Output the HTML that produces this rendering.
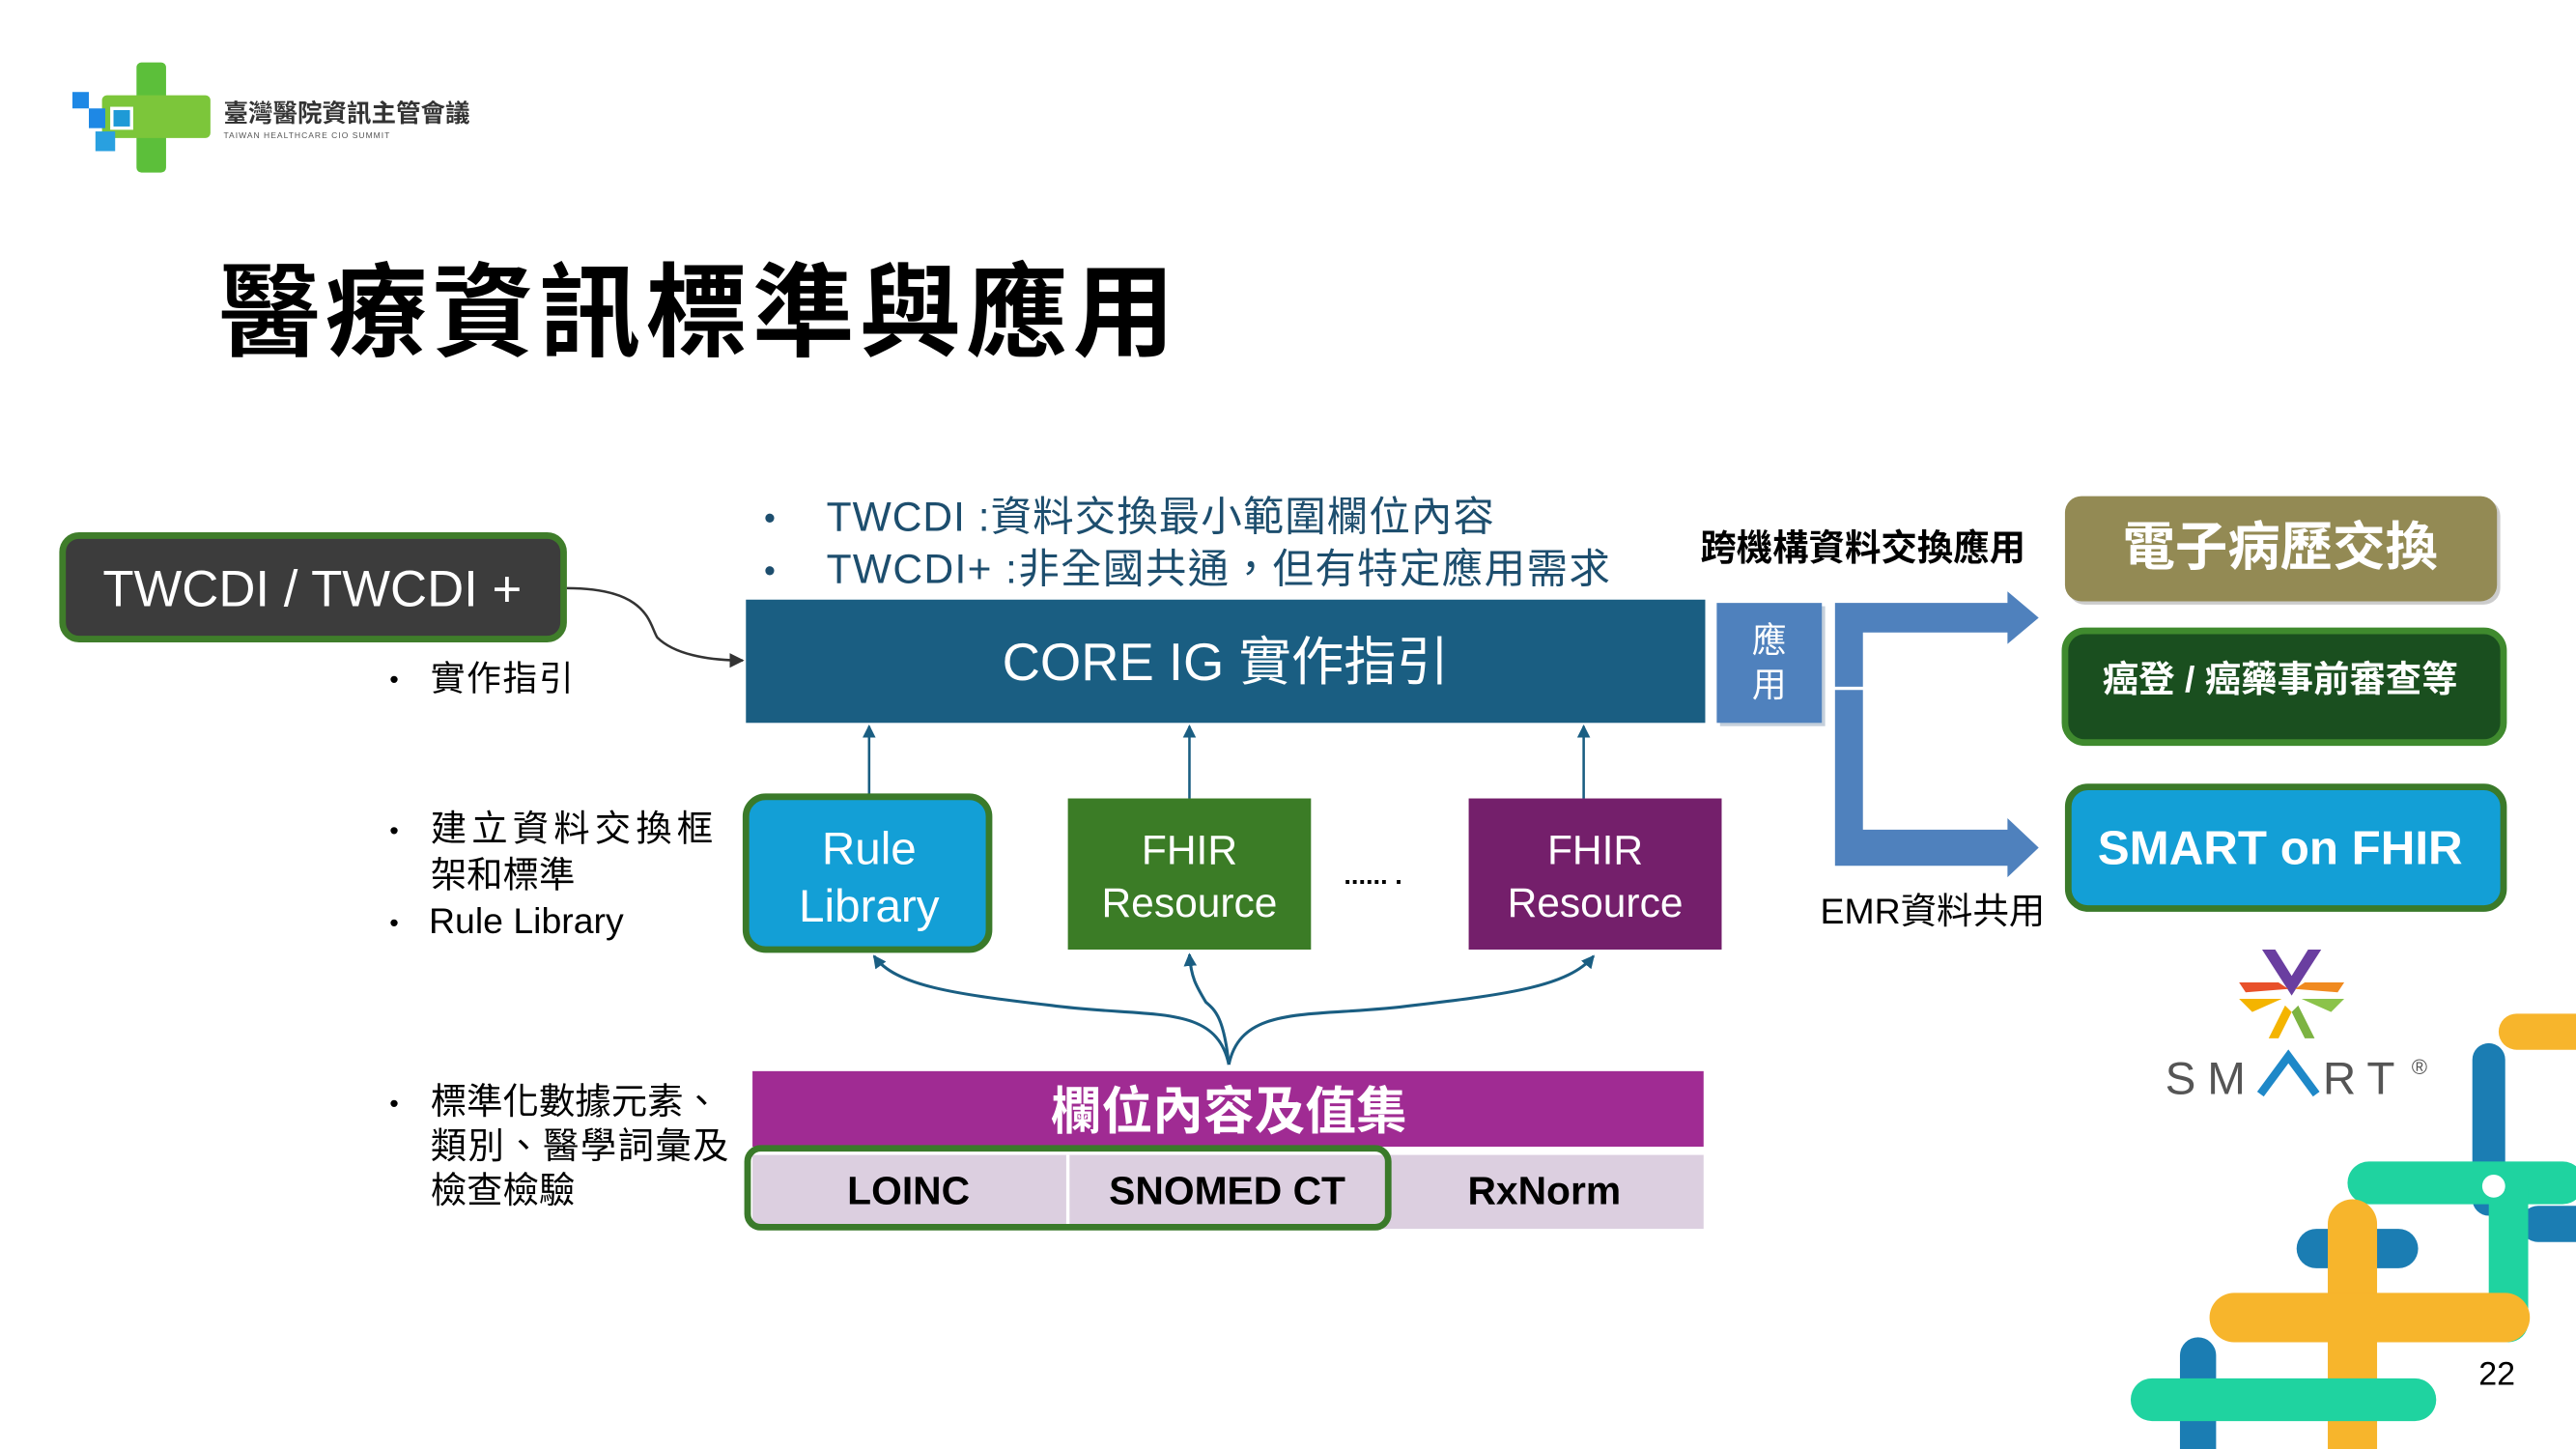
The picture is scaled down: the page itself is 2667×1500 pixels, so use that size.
<!DOCTYPE html>
<html><head><meta charset="utf-8"><style>
html,body{margin:0;padding:0;background:#fff;overflow:hidden}
svg{display:block}
text{font-family:"Liberation Sans","Noto Sans CJK TC",sans-serif}
</style></head><body>
<svg width="2667" height="1500" viewBox="0 0 1568 882" xmlns="http://www.w3.org/2000/svg">
<defs>
<marker id="ah" markerWidth="8" markerHeight="8" refX="7" refY="4" orient="auto" markerUnits="userSpaceOnUse"><path d="M0,0 L8,4 L0,8 Z" fill="#1a5e82"/></marker>
<marker id="ah2" markerWidth="9" markerHeight="9" refX="8" refY="4.5" orient="auto" markerUnits="userSpaceOnUse"><path d="M0,0 L9,4.5 L0,9 Z" fill="#333"/></marker>
</defs>
<rect width="1568" height="882" fill="#fff"/>
<!-- logo -->
<rect x="83" y="38" width="18" height="67" rx="3" fill="#5cbf3a"/>
<rect x="62" y="58" width="66" height="26" rx="3" fill="#7cc63a"/>
<rect x="44" y="56" width="10" height="10" fill="#1e88e5"/>
<rect x="54" y="66" width="10" height="12" fill="#1e88e5"/>
<rect x="58" y="80" width="12" height="12" fill="#29a0e0"/>
<rect x="68" y="66" width="12" height="12" fill="#1e9ad6" stroke="#fff" stroke-width="2"/>
<text x="136" y="74" font-size="15" font-weight="bold" fill="#333">臺灣醫院資訊主管會議</text>
<text x="136" y="84" font-size="5" fill="#555" letter-spacing="0.6">TAIWAN HEALTHCARE CIO SUMMIT</text>
<!-- title -->
<text x="133" y="212" font-size="62" font-weight="bold" fill="#000" letter-spacing="3">醫療資訊標準與應用</text>
<!-- TWCDI box -->
<rect x="38" y="326" width="305" height="63" rx="10" fill="#3c3c3c" stroke="#3f7d2a" stroke-width="4"/>
<text x="190" y="369" font-size="31" fill="#fff" text-anchor="middle">TWCDI / TWCDI +</text>
<text x="237" y="419" font-size="16" fill="#000">•</text>
<text x="262" y="420" font-size="21" fill="#000" letter-spacing="1">實作指引</text>
<path d="M345,358 C395,358 395,380 400,388 C410,398 430,402 452,402" fill="none" stroke="#333" stroke-width="1.5" marker-end="url(#ah2)"/>
<!-- top bullets -->
<text x="465" y="322" font-size="20" fill="#1d4e6e">•</text>
<text x="503" y="323" font-size="25" fill="#1d4e6e" letter-spacing="0.6">TWCDI :資料交換最小範圍欄位內容</text>
<text x="465" y="354" font-size="20" fill="#1d4e6e">•</text>
<text x="503" y="355" font-size="25" fill="#1d4e6e" letter-spacing="0.8">TWCDI+ :非全國共通，但有特定應用需求</text>
<!-- core IG -->
<rect x="454" y="365" width="584" height="75" fill="#1a5e82"/>
<text x="746" y="414" font-size="32" fill="#fff" text-anchor="middle">CORE IG 實作指引</text>
<!-- 應用 -->
<rect x="1047" y="369" width="64" height="73" fill="#8aa0b8" opacity="0.5"/>
<rect x="1045" y="367" width="64" height="73" fill="#4f81bd"/>
<text x="1077" y="397" font-size="21" fill="#fff" text-anchor="middle">應</text>
<text x="1077" y="424" font-size="21" fill="#fff" text-anchor="middle">用</text>
<!-- bracket arrows -->
<path d="M1117,367 H1222 V360 L1241,376 L1222,392 V385 H1134 V418 H1117 Z" fill="#4f81bd"/>
<path d="M1117,420 H1134 V505 H1222 V498 L1241,516 L1222,534 V527 H1117 Z" fill="#4f81bd"/>
<text x="1035" y="341" font-size="22" font-weight="bold" fill="#000">跨機構資料交換應用</text>
<text x="1108" y="562" font-size="22" fill="#000">EMR資料共用</text>
<!-- right boxes -->
<rect x="1259" y="304" width="263" height="64" rx="10" fill="#ccc"/>
<rect x="1257" y="302" width="263" height="64" rx="10" fill="#938a54"/>
<text x="1388" y="344" font-size="32" font-weight="bold" fill="#fff" text-anchor="middle">電子病歷交換</text>
<rect x="1257" y="384" width="267" height="68" rx="12" fill="#1a4f1f" stroke="#3f8a2e" stroke-width="4"/>
<text x="1388" y="421" font-size="22" font-weight="bold" fill="#fff" text-anchor="middle">癌登 / 癌藥事前審查等</text>
<rect x="1259" y="479" width="265" height="74" rx="12" fill="#139fd6" stroke="#3a7a2a" stroke-width="4"/>
<text x="1388" y="526" font-size="29" font-weight="bold" fill="#fff" text-anchor="middle">SMART on FHIR</text>
<!-- SMART logo -->
<g transform="translate(1395,604)">
<path d="M-18,-26 L-10,-26 L0,-10 L10,-26 L18,-26 L0,2 Z" fill="#6a3ea0"/>
<path d="M-32,-6 L-8,-6 L-2,-2 L-28,0 Z" fill="#e8502a"/>
<path d="M32,-6 L8,-6 L2,-2 L28,0 Z" fill="#f08a20"/>
<path d="M-32,4 L-6,4 L-24,12 Z" fill="#f4b400"/>
<path d="M32,4 L6,4 L24,12 Z" fill="#8bc34a"/>
<path d="M-4,8 L-14,28 L-8,28 L0,12 Z" fill="#f4b400"/>
<path d="M4,8 L14,28 L8,28 L0,12 Z" fill="#7cb342"/>
</g>
<text x="1318" y="666" font-size="28" fill="#555" letter-spacing="7">SM</text>
<path d="M1376,666 L1393,643 L1410,666" fill="none" stroke="#1e88c8" stroke-width="5"/>
<text x="1414" y="666" font-size="28" fill="#555" letter-spacing="7">RT</text>
<text x="1468" y="654" font-size="13" fill="#555">®</text>
<!-- mid-left bullets -->
<text x="237" y="511" font-size="16" fill="#000">•</text>
<text x="262" y="512" font-size="22" fill="#000" letter-spacing="3">建立資料交換框</text>
<text x="262" y="540" font-size="22" fill="#000">架和標準</text>
<text x="237" y="567" font-size="16" fill="#000">•</text>
<text x="261" y="568" font-size="22" fill="#000">Rule Library</text>
<!-- upward arrows -->
<line x1="529" y1="486" x2="529" y2="442" stroke="#1a5e82" stroke-width="1.5" marker-end="url(#ah)"/>
<line x1="724" y1="486" x2="724" y2="442" stroke="#1a5e82" stroke-width="1.5" marker-end="url(#ah)"/>
<line x1="964" y1="486" x2="964" y2="442" stroke="#1a5e82" stroke-width="1.5" marker-end="url(#ah)"/>
<!-- mid boxes -->
<rect x="454" y="485" width="148" height="93" rx="12" fill="#139fd6" stroke="#3a7a2a" stroke-width="4"/>
<text x="529" y="526" font-size="28" fill="#fff" text-anchor="middle">Rule</text>
<text x="529" y="561" font-size="28" fill="#fff" text-anchor="middle">Library</text>
<rect x="650" y="486" width="148" height="92" fill="#3b7c26"/>
<text x="724" y="526" font-size="25" fill="#fff" text-anchor="middle">FHIR</text>
<text x="724" y="558" font-size="25" fill="#fff" text-anchor="middle">Resource</text>
<text x="818" y="538" font-size="16" font-weight="bold" fill="#000">...... .</text>
<rect x="894" y="486" width="154" height="92" fill="#741f6b"/>
<text x="971" y="526" font-size="25" fill="#fff" text-anchor="middle">FHIR</text>
<text x="971" y="558" font-size="25" fill="#fff" text-anchor="middle">Resource</text>
<!-- curves -->
<path d="M748,648 C740,610 700,620 640,612 C580,605 545,600 532,582" fill="none" stroke="#1a5e82" stroke-width="1.8" marker-end="url(#ah)"/>
<path d="M748,648 C745,620 740,615 734,610 C728,600 725,595 724,581" fill="none" stroke="#1a5e82" stroke-width="1.8" marker-end="url(#ah)"/>
<path d="M748,648 C756,610 800,620 860,612 C920,605 955,600 970,582" fill="none" stroke="#1a5e82" stroke-width="1.8" marker-end="url(#ah)"/>
<!-- bottom -->
<text x="237" y="677" font-size="16" fill="#000">•</text>
<text x="262" y="678" font-size="22" fill="#000">標準化數據元素、</text>
<text x="262" y="705" font-size="22" fill="#000" letter-spacing="0.8">類別、醫學詞彙及</text>
<text x="262" y="732" font-size="22" fill="#000">檢查檢驗</text>
<rect x="458" y="652" width="579" height="46" fill="#a02b93"/>
<text x="748" y="687" font-size="31" font-weight="bold" fill="#fff" text-anchor="middle">欄位內容及值集</text>
<rect x="458" y="703" width="579" height="45" fill="#dccfe0"/>
<line x1="650" y1="703" x2="650" y2="748" stroke="#fff" stroke-width="2"/>
<rect x="455" y="699" width="390" height="48" rx="8" fill="none" stroke="#3a7a2a" stroke-width="4"/>
<text x="553" y="733" font-size="24" font-weight="bold" fill="#000" text-anchor="middle">LOINC</text>
<text x="747" y="733" font-size="24" font-weight="bold" fill="#000" text-anchor="middle">SNOMED CT</text>
<text x="940" y="733" font-size="24" font-weight="bold" fill="#000" text-anchor="middle">RxNorm</text>
<!-- decoration -->
<g stroke-linecap="round" fill="none">
<line x1="1532" y1="628" x2="1580" y2="628" stroke="#f7b52c" stroke-width="22"/>
<line x1="1515" y1="645" x2="1515" y2="730" stroke="#1b7db3" stroke-width="20"/>
<line x1="1545" y1="745" x2="1580" y2="745" stroke="#1b7db3" stroke-width="22"/>
<line x1="1442" y1="720" x2="1560" y2="720" stroke="#1fd3a0" stroke-width="26"/>
<line x1="1527" y1="725" x2="1527" y2="805" stroke="#1fd3a0" stroke-width="24"/>
<line x1="1410" y1="760" x2="1460" y2="760" stroke="#1b7db3" stroke-width="24"/>
<line x1="1432" y1="745" x2="1432" y2="895" stroke="#f7b52c" stroke-width="30"/>
<line x1="1360" y1="802" x2="1525" y2="802" stroke="#f7b52c" stroke-width="30"/>
<line x1="1338" y1="825" x2="1338" y2="895" stroke="#1b7db3" stroke-width="22"/>
<line x1="1310" y1="852" x2="1470" y2="852" stroke="#1fd3a0" stroke-width="26"/>
</g>
<circle cx="1518" cy="722" r="7" fill="#fff"/>
<text x="1520" y="843" font-size="20" fill="#000" text-anchor="middle">22</text>
</svg>
</body></html>
